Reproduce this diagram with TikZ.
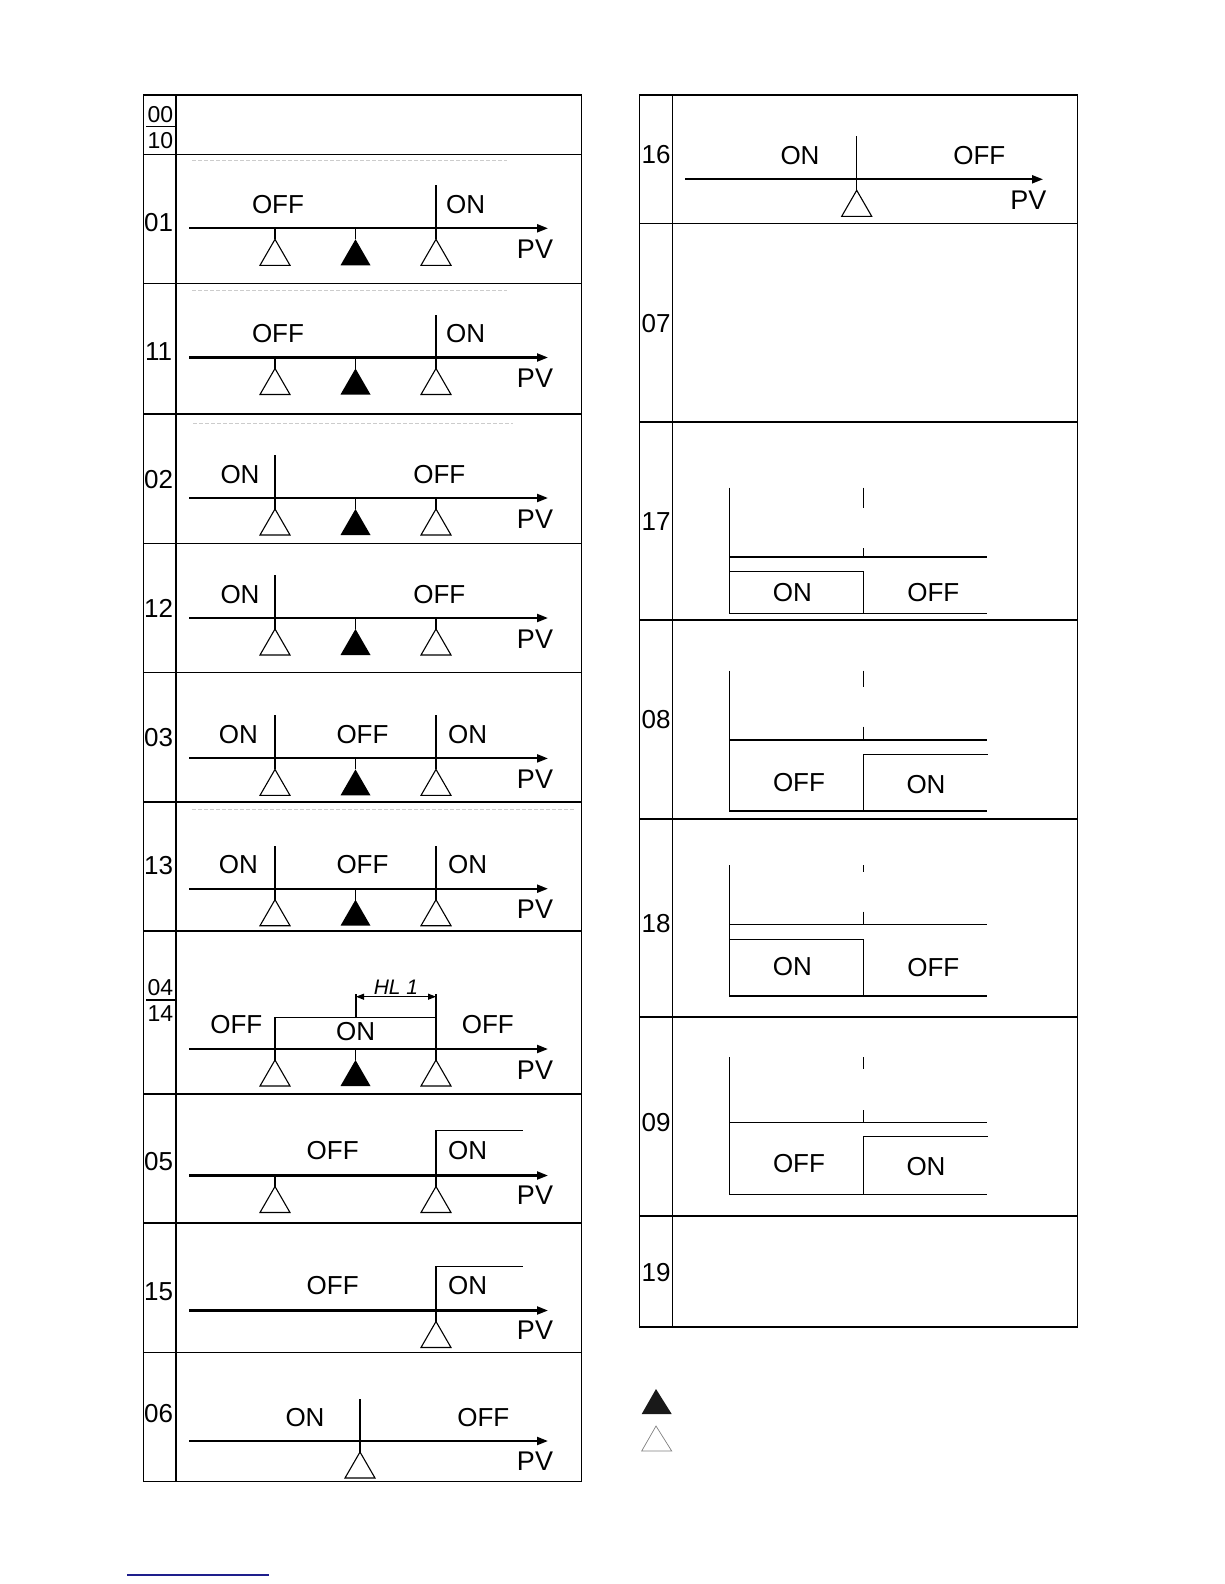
\documentclass[tikz,border=0pt]{standalone}
\usepackage{fontspec}
\setmainfont{Liberation Sans}
\usetikzlibrary{arrows.meta}
\definecolor{linkblue}{RGB}{30,30,140}
\begin{document}
\begin{tikzpicture}[x=1pt,y=-1pt,
  grid/.style={line width=1.3pt},
  axisline/.style={line width=2.1pt,-{Triangle[length=11pt,width=8pt]}},
  thinl/.style={line width=1.1pt},
  lbl/.style={font=\fontsize{26}{26}\selectfont, anchor=base, inner sep=0pt},
  lblw/.style={lbl, anchor=base west},
  pvl/.style={font=\fontsize{27}{27}\selectfont, anchor=base, inner sep=0pt},
  fracl/.style={font=\fontsize{23}{23}\selectfont, anchor=base, inner sep=0pt},
  ghost/.style={gray!40, line width=0.8pt, dash pattern=on 4pt off 2pt},
  otri/.pic={\draw[line width=1.1pt] (0,0)--(0,11); \draw[line width=1.1pt,fill=white] (0,11)--(-15,37)--(15,37)--cycle;},
  ftri/.pic={\draw[line width=1.1pt] (0,0)--(0,11); \fill[black] (0,11)--(-15,37)--(15,37)--cycle;}
]
\useasboundingbox (0,0) rectangle (1224,1584);

% ---------- left table frame ----------
\draw[grid] (143.5,94.9) rectangle (581.7,1481.5);
\draw[grid] (176,94.9) -- (176,1481.5);
\foreach \yy in {154.5,283.8,414.1,543.3,672.6,801.9,931.1,1223,1352.3}
  \draw[grid] (143.5,\yy) -- (581.7,\yy);
\draw[line width=2pt] (143.5,1093.7) -- (581.7,1093.7);

% ---------- right table frame ----------
\draw[grid] (639.3,94.9) rectangle (1077.5,1327);
\draw[grid] (672.3,94.9) -- (672.3,1327);
\foreach \yy in {223.2,422.1,620.1,819,1017,1215.9}
  \draw[grid] (639.3,\yy) -- (1077.5,\yy);

% faint remnants
\draw[ghost] (192,160) -- (507,160);
\draw[ghost] (192,290) -- (507,290);
\draw[ghost] (193,423) -- (513,423);
\draw[ghost] (192,809) -- (575,809);

% ---------- row labels left ----------
\node[fracl] (l00) at (160.5,123) {00};
\draw[line width=1.2pt] (146,126.5) -- (175,126.5);
\node[fracl] (l10) at (160.5,148.3) {10};
\node[lbl] (l01) at (158.7,231) {01};
\node[lbl] (l11) at (158.7,360.5) {11};
\node[lbl] (l02) at (158.7,488.7) {02};
\node[lbl] (l12) at (158.7,617) {12};
\node[lbl] (l03) at (158.7,746) {03};
\node[lbl] (l13) at (158.7,874.5) {13};
\node[fracl] (l04) at (160.5,995) {04};
\draw[line width=1.2pt] (146,1000) -- (175,1000);
\node[fracl] (l14) at (160.5,1021.7) {14};
\node[lbl] (l05) at (158.7,1170.5) {05};
\node[lbl] (l15) at (158.7,1300.7) {15};
\node[lbl] (l06) at (158.7,1422) {06};

% ---------- row 01 ----------
\begin{scope}[shift={(0,228.3)}]
  \draw[axisline] (189,0) -- (548,0);
  \pic at (275,0) {otri}; \pic at (355.5,0) {ftri}; \pic at (436,0) {otri};
  \draw[thinl] (436,0) -- (436,-43);
  \node[lbl] (a01off) at (278,-15) {OFF};
  \node[lblw] (a01on) at (446,-15) {ON};
  \node[pvl] (a01pv) at (535,30) {PV};
\end{scope}
% ---------- row 11 ----------
\begin{scope}[shift={(0,357.5)}]
  \draw[axisline] (189,0) -- (548,0);
  \pic at (275,0) {otri}; \pic at (355.5,0) {ftri}; \pic at (436,0) {otri};
  \draw[thinl] (436,0) -- (436,-43);
  \node[lbl] (a11off) at (278,-15) {OFF};
  \node[lblw] (a11on) at (446,-15) {ON};
  \node[pvl] (a11pv) at (535,30) {PV};
\end{scope}
% ---------- row 02 ----------
\begin{scope}[shift={(0,498)}]
  \draw[axisline] (189,0) -- (548,0);
  \pic at (275,0) {otri}; \pic at (355.5,0) {ftri}; \pic at (436,0) {otri};
  \draw[thinl] (275,0) -- (275,-43);
  \node[lbl] (a02on) at (240,-15) {ON};
  \node[lbl] (a02off) at (439.3,-15) {OFF};
  \node[pvl] (a02pv) at (535,30) {PV};
\end{scope}
% ---------- row 12 ----------
\begin{scope}[shift={(0,618)}]
  \draw[axisline] (189,0) -- (548,0);
  \pic at (275,0) {otri}; \pic at (355.5,0) {ftri}; \pic at (436,0) {otri};
  \draw[thinl] (275,0) -- (275,-43);
  \node[lbl] (a12on) at (240,-15) {ON};
  \node[lbl] (a12off) at (439.3,-15) {OFF};
  \node[pvl] (a12pv) at (535,30) {PV};
\end{scope}
% ---------- row 03 ----------
\begin{scope}[shift={(0,758.4)}]
  \draw[axisline] (189,0) -- (548,0);
  \pic at (275,0) {otri}; \pic at (355.5,0) {ftri}; \pic at (436,0) {otri};
  \draw[thinl] (275,0) -- (275,-43);
  \draw[thinl] (436,0) -- (436,-43);
  \node[lbl] (a03on) at (238.3,-15) {ON};
  \node[lbl] (a03off) at (362.5,-15) {OFF};
  \node[lbl] (a03on2) at (467.6,-15) {ON};
  \node[pvl] (a03pv) at (535,30) {PV};
\end{scope}
% ---------- row 13 ----------
\begin{scope}[shift={(0,888.7)}]
  \draw[axisline] (189,0) -- (548,0);
  \pic at (275,0) {otri}; \pic at (355.5,0) {ftri}; \pic at (436,0) {otri};
  \draw[thinl] (275,0) -- (275,-43);
  \draw[thinl] (436,0) -- (436,-43);
  \node[lbl] (a13on) at (238.3,-15) {ON};
  \node[lbl] (a13off) at (362.5,-15) {OFF};
  \node[lbl] (a13on2) at (467.6,-15) {ON};
  \node[pvl] (a13pv) at (535,30) {PV};
\end{scope}
% ---------- row 04/14 ----------
\begin{scope}[shift={(0,1049)}]
  \draw[axisline] (189,0) -- (548,0);
  \pic at (275,0) {otri}; \pic at (355.5,0) {ftri}; \pic at (436,0) {otri};
  \draw[thinl] (275,0) -- (275,-31.3) -- (436,-31.3);
  \draw[thinl] (436,0) -- (436,-55);
  \draw[thinl] (356,-31.3) -- (356,-55);
  \coordinate (hlA) at (356,-52.3);
  \coordinate (hlB) at (436,-52.3);
  \draw[thinl,{Triangle[length=8pt,width=6pt]}-{Triangle[length=8pt,width=6pt]}] (hlA) -- (hlB);
  \node[font=\fontsize{21}{21}\selectfont\itshape, anchor=base, inner sep=0pt] (a04hl) at (396,-55) {HL 1};
  \node[lbl] (a04off) at (236.3,-15.7) {OFF};
  \node[lbl] (a04on) at (355.7,-8.3) {ON};
  \node[lbl] (a04off2) at (487.8,-15.7) {OFF};
  \node[pvl] (a04pv) at (535,30) {PV};
\end{scope}
% ---------- row 05 ----------
\begin{scope}[shift={(0,1175.5)}]
  \draw[axisline] (189,0) -- (548,0);
  \pic at (275,0) {otri}; \pic at (436,0) {otri};
  \draw[thinl] (436,0) -- (436,-45) -- (522.7,-45);
  \node[lbl] (a05off) at (332.7,-15.7) {OFF};
  \node[lbl] (a05on) at (467.7,-15.7) {ON};
  \node[pvl] (a05pv) at (535,29) {PV};
\end{scope}
% ---------- row 15 ----------
\begin{scope}[shift={(0,1310.5)}]
  \draw[axisline] (189,0) -- (548,0);
  \pic at (436,0) {otri};
  \draw[thinl] (436,0) -- (436,-44) -- (522.7,-44);
  \node[lbl] (a15off) at (332.7,-15.7) {OFF};
  \node[lbl] (a15on) at (467.7,-15.7) {ON};
  \node[pvl] (a15pv) at (535,29) {PV};
\end{scope}
% ---------- row 06 ----------
\begin{scope}[shift={(0,1441)}]
  \draw[axisline] (189,0) -- (548,0);
  \pic at (360,0) {otri};
  \draw[thinl] (360,0) -- (360,-42);
  \node[lbl] (a06on) at (305,-14.6) {ON};
  \node[lbl] (a06off) at (483.3,-14.6) {OFF};
  \node[pvl] (a06pv) at (535,29) {PV};
\end{scope}

% ---------- right table labels ----------
\node[lbl] (l16) at (656,163.3) {16};
\node[lbl] (l07) at (656,332) {07};
\node[lbl] (l17) at (656,530) {17};
\node[lbl] (l08) at (656,728.3) {08};
\node[lbl] (l18) at (656,932.7) {18};
\node[lbl] (l09) at (656,1131.7) {09};
\node[lbl] (l19) at (656,1281) {19};

% ---------- row 16 ----------
\begin{scope}[shift={(0,179.3)}]
  \draw[axisline] (685,0) -- (1043,0);
  \pic at (856.7,0) {otri};
  \draw[thinl] (856.7,0) -- (856.7,-43.3);
  \node[lbl] (b16on) at (800,-15) {ON};
  \node[lbl] (b16off) at (979.3,-15) {OFF};
  \node[pvl] (b16pv) at (1028.3,30) {PV};
\end{scope}

% ---------- row 17 ----------
\draw[thinl] (729.3,487.7) -- (729.3,613.3);
\draw[thinl] (863.3,487.7) -- (863.3,507.7);
\draw[thinl] (863.3,548.3) -- (863.3,557);
\draw[thinl] (729.3,557) -- (986.7,557);
\draw[thinl] (729.3,571.7) -- (863.3,571.7) -- (863.3,613.3);
\draw[thinl] (729.3,613.3) -- (986.7,613.3);
\node[lbl] (b17on) at (792.3,601.7) {ON};
\node[lbl] (b17off) at (933.3,601.7) {OFF};

% ---------- row 08 ----------
\draw[thinl] (729.3,670.7) -- (729.3,811);
\draw[thinl] (863.3,670.7) -- (863.3,686.7);
\draw[thinl] (863.3,726.7) -- (863.3,740);
\draw[thinl] (729.3,740) -- (986.7,740);
\draw[thinl] (863.3,811) -- (863.3,754.3) -- (987.7,754.3);
\draw[thinl] (729.3,811) -- (986.7,811);
\node[lbl] (b08off) at (799,791.7) {OFF};
\node[lbl] (b08on) at (926,793.3) {ON};

% ---------- row 18 ----------
\draw[thinl] (729.3,865.3) -- (729.3,996);
\draw[thinl] (863.3,865.3) -- (863.3,872);
\draw[thinl] (863.3,911.7) -- (863.3,924.3);
\draw[thinl] (729.3,924.3) -- (986.7,924.3);
\draw[thinl] (729.3,939.3) -- (863.3,939.3) -- (863.3,996);
\draw[thinl] (729.3,996) -- (986.7,996);
\node[lbl] (b18on) at (792.3,975.7) {ON};
\node[lbl] (b18off) at (933.3,976.7) {OFF};

% ---------- row 09 ----------
\draw[thinl] (729.3,1057.3) -- (729.3,1194.3);
\draw[thinl] (863.3,1057.3) -- (863.3,1069.3);
\draw[thinl] (863.3,1110) -- (863.3,1122.3);
\draw[thinl] (729.3,1122.3) -- (986.7,1122.3);
\draw[thinl] (863.3,1194.3) -- (863.3,1136.7) -- (987.7,1136.7);
\draw[thinl] (729.3,1194.3) -- (986.7,1194.3);
\node[lbl] (b09off) at (799,1172.7) {OFF};
\node[lbl] (b09on) at (926,1175) {ON};

% ---------- legend ----------
\fill[black!90] (656,1389) -- (641.7,1414) -- (671.7,1414) -- cycle;
\draw[gray, line width=0.7pt] (656,1426) -- (641.7,1451) -- (671.7,1451) -- cycle;

% ---------- bottom link line ----------
\draw[linkblue, line width=1.4pt] (127.3,1575) -- (269,1575);
\end{tikzpicture}
\end{document}
